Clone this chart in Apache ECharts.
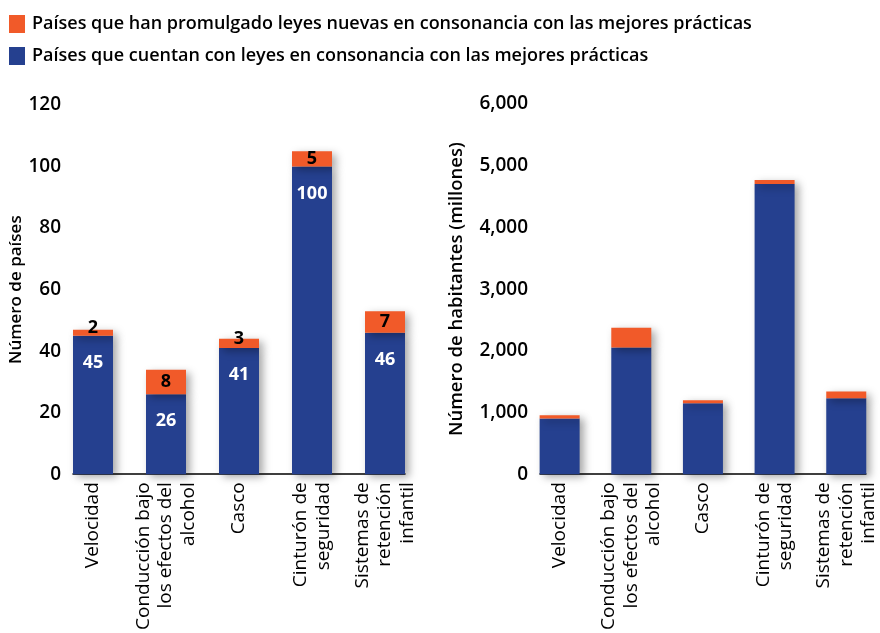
<!DOCTYPE html>
<html>
<head>
<meta charset="utf-8">
<script src="https://cdn.jsdelivr.net/npm/echarts@6/dist/echarts.min.js"></script>
<style>
  html, body { margin: 0; padding: 0; background: #fff; }
  #chart { width: 880px; height: 633px; }
</style>
</head>
<body>
<div id="chart"></div>
<script>
// Categories of road-safety laws
const categories = [
  'Velocidad',
  'Conducción bajo\nlos efectos del\nalcohol',
  'Casco',
  'Cinturón de\nseguridad',
  'Sistemas de\nretención\ninfantil'
];

// Number of countries
const countriesExisting = [45, 26, 41, 100, 46];
const countriesNew = [2, 8, 3, 5, 7];

// Population covered (millions)
const populationExisting = [905, 2055, 1150, 4705, 1230];
const populationNew = [50, 320, 50, 65, 110];

// Y-axis ticks
const countryTicks = { min: 0, max: 120, interval: 20 };
const populationTicks = { min: 0, max: 6000, interval: 1000 };

const seriesNames = [
  'Países que han promulgado leyes nuevas en consonancia con las mejores prácticas',
  'Países que cuentan con leyes en consonancia con las mejores prácticas'
];

const BLUE = '#25408f';
const ORANGE = '#f15a29';
const FONT = 'Open Sans';

// Bars sit on a numeric x axis so the baseline runs exactly from the first bar's
// left edge to the last bar's right edge.
const BAR_W = 40;
const STEP = 73;
const HALF = BAR_W / 2 / STEP;

// Points are stored as [value, categoryIndex]; the value comes first so that
// stacking accumulates along the vertical axis.
const toPoints = arr => arr.map((v, i) => [v, i]);
const ENCODE = { x: 1, y: 0 };

const shadow = {
  shadowBlur: 8,
  shadowOffsetX: 4,
  shadowOffsetY: 3,
  shadowColor: 'rgba(0,0,0,0.35)'
};

function xAxis(gridIndex) {
  return {
    type: 'value',
    gridIndex,
    min: -HALF,
    max: categories.length - 1 + HALF,
    splitLine: { show: false },
    axisTick: { show: false },
    axisLine: { show: true, onZero: false, lineStyle: { color: '#000', width: 1.5 } },
    axisLabel: {
      customValues: categories.map((_, i) => i),
      formatter: v => categories[Math.round(v)] || '',
      rotate: 90,
      margin: 8,
      color: '#000',
      fontFamily: FONT,
      fontSize: 19,
      fontWeight: 500,
      lineHeight: 22.5,
      padding: [0, 0, 0, 0]
    }
  };
}

function yAxis(gridIndex, ticks, name, nameGap, nameSize) {
  return {
    type: 'value',
    gridIndex,
    min: ticks.min,
    max: ticks.max,
    interval: ticks.interval,
    name,
    nameLocation: 'middle',
    nameRotate: 90,
    nameGap,
    nameTextStyle: { color: '#000', fontFamily: FONT, fontSize: nameSize, fontWeight: 600 },
    splitLine: { show: false },
    axisLine: { show: false },
    axisTick: { show: false },
    axisLabel: { margin: 12, color: '#000', fontFamily: FONT, fontSize: 19, fontWeight: 600 }
  };
}

const chart = echarts.init(document.getElementById('chart'), null, { renderer: 'canvas' });

chart.setOption({
  animation: false,
  backgroundColor: '#fff',
  legend: {
    data: [seriesNames[0], seriesNames[1]],
    orient: 'vertical',
    left: 9,
    top: 15,
    padding: 0,
    itemWidth: 16,
    itemHeight: 18,
    itemGap: 14,
    icon: 'rect',
    textStyle: { color: '#000', fontFamily: FONT, fontSize: 18, fontWeight: 600, padding: [0, 0, 0, 2] }
  },
  grid: [
    { left: 73, width: 332, top: 105, bottom: 158 },
    { left: 540, width: 332, top: 104, bottom: 158 }
  ],
  xAxis: [xAxis(0), xAxis(1)],
  yAxis: [
    yAxis(0, countryTicks, 'Número de países', 45, 17),
    yAxis(1, populationTicks, 'Número de habitantes (millones)', 74, 18.5)
  ],
  series: [
    {
      name: seriesNames[1],
      type: 'bar',
      stack: 'countries',
      xAxisIndex: 0,
      yAxisIndex: 0,
      barWidth: BAR_W,
      encode: ENCODE,
      data: toPoints(countriesExisting),
      itemStyle: Object.assign({ color: BLUE }, shadow),
      label: {
        show: true,
        position: 'insideTop',
        distance: 18,
        formatter: p => p.value[0],
        color: '#fff',
        fontFamily: FONT,
        fontSize: 18,
        fontWeight: 700
      }
    },
    {
      name: seriesNames[0],
      type: 'bar',
      stack: 'countries',
      xAxisIndex: 0,
      yAxisIndex: 0,
      barWidth: BAR_W,
      encode: ENCODE,
      data: countriesNew.map((v, i) => ({
        value: [v, i],
        label: v < 4 ? { offset: [0, -5] } : {}
      })),
      itemStyle: Object.assign({ color: ORANGE }, shadow),
      label: {
        show: true,
        position: 'inside',
        formatter: p => p.value[0],
        color: '#000',
        fontFamily: FONT,
        fontSize: 18,
        fontWeight: 700
      }
    },
    {
      name: seriesNames[1],
      type: 'bar',
      stack: 'population',
      xAxisIndex: 1,
      yAxisIndex: 1,
      barWidth: BAR_W,
      encode: ENCODE,
      data: toPoints(populationExisting),
      itemStyle: Object.assign({ color: BLUE }, shadow)
    },
    {
      name: seriesNames[0],
      type: 'bar',
      stack: 'population',
      xAxisIndex: 1,
      yAxisIndex: 1,
      barWidth: BAR_W,
      encode: ENCODE,
      data: toPoints(populationNew),
      itemStyle: Object.assign({ color: ORANGE }, shadow)
    }
  ]
});
</script>
</body>
</html>
